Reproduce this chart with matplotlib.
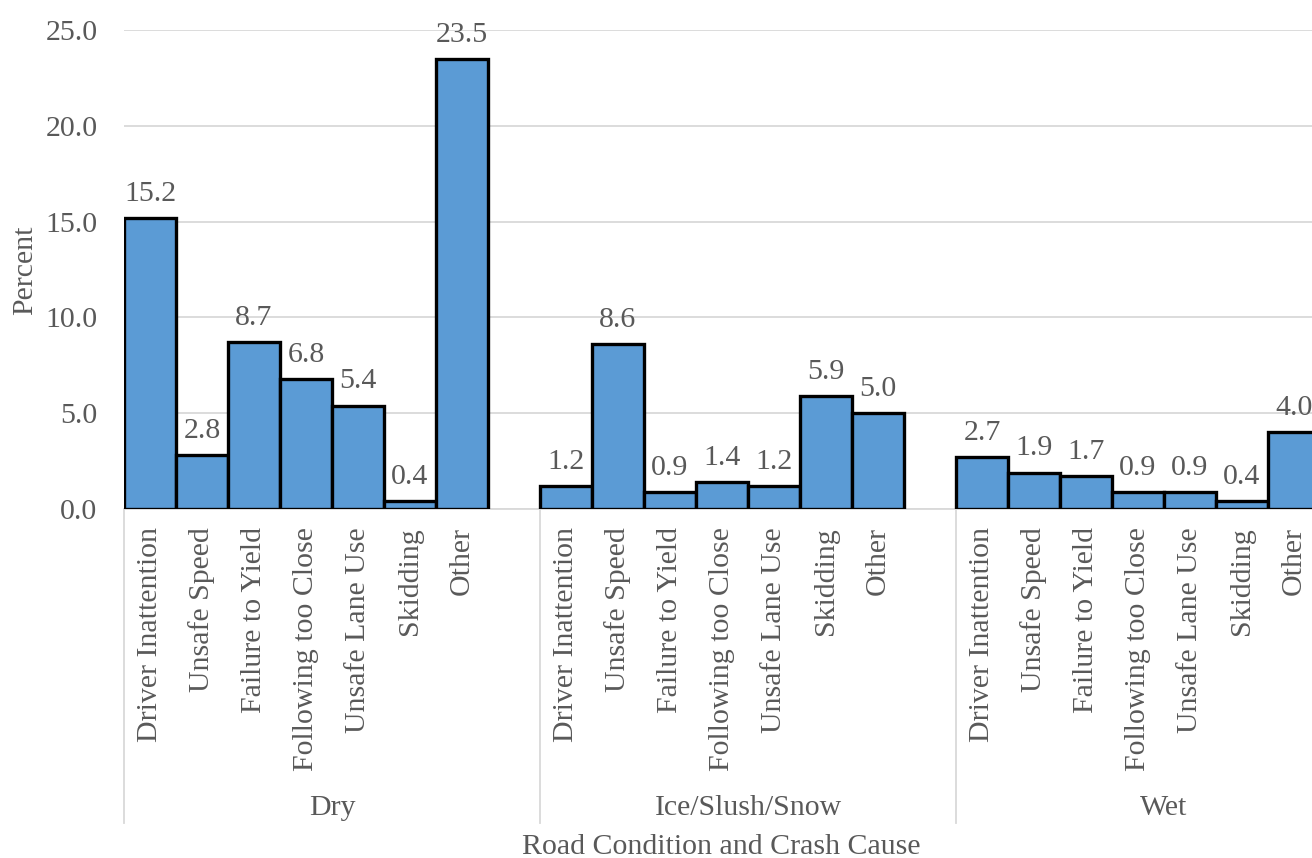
import matplotlib
matplotlib.use("Agg")
import matplotlib.pyplot as plt
import matplotlib.transforms as mtransforms

plt.rcParams['font.family'] = ['Liberation Serif', 'DejaVu Serif']

GRAY = '#595959'
GRID = '#D9D9D9'
BLUE = '#5B9BD5'
FS = 21.5

conditions = ['Dry', 'Ice/Slush/Snow', 'Wet']
causes = ['Driver Inattention', 'Unsafe Speed', 'Failure to Yield',
          'Following too Close', 'Unsafe Lane Use', 'Skidding', 'Other']
dry = [15.2, 2.8, 8.7, 6.8, 5.4, 0.4, 23.5]
ice = [1.2, 8.6, 0.9, 1.4, 1.2, 5.9, 5.0]
wet = [2.7, 1.9, 1.7, 0.9, 0.9, 0.4, 4.0]
yticks = [0, 5, 10, 15, 20, 25]

W, H = 1312, 858
fig = plt.figure(figsize=(W / 100, H / 100), dpi=100)
# axes run past the right edge of the figure, like the cropped original
ax = fig.add_axes([124 / W, 1 - 509 / H, 1248 / W, 479 / H])

slot = len(causes) + 1
xs, vals, labels = [], [], []
for g, series in enumerate([dry, ice, wet]):
    for i, v in enumerate(series):
        xs.append(g * slot + i)
        vals.append(v)
        labels.append(causes[i])

bars = ax.bar(xs, vals, width=1.0, color=BLUE, edgecolor='black', linewidth=2.4, zorder=3)
for x, v in zip(xs, vals):
    ax.annotate(f'{v:.1f}', (x, v), xytext=(0, 8), textcoords='offset points',
                ha='center', va='bottom', fontsize=FS, color=GRAY, zorder=4)

ax.set_xlim(-0.5, 3 * slot - 0.5)
ax.set_ylim(0, 25)
ax.set_yticks(yticks)
ax.set_yticklabels([f'{t:.1f}' for t in yticks])
ax.yaxis.grid(True, color=GRID, linewidth=1.3, zorder=0)
ax.set_axisbelow(True)
for s in ['top', 'right', 'left']:
    ax.spines[s].set_visible(False)
ax.spines['bottom'].set_color(GRID)
ax.spines['bottom'].set_linewidth(1.3)

ax.set_xticks(xs)
ax.set_xticklabels(labels, rotation=90, va='top', ha='center')
ax.tick_params(axis='x', length=0, pad=13, labelsize=FS, labelcolor=GRAY)
ax.tick_params(axis='y', length=0, pad=19, labelsize=FS, labelcolor=GRAY)

# group separators and group labels under the axis
trans = mtransforms.blended_transform_factory(ax.transData, ax.transAxes)
for g in range(len(conditions) + 1):
    xg = g * slot - 0.5
    ax.plot([xg, xg], [0, -314 / 479], color=GRID, linewidth=1.3,
            transform=trans, clip_on=False)
for g, name in enumerate(conditions):
    xc = g * slot + (slot - 1) / 2
    ax.text(xc, -299 / 479, name, transform=trans, ha='center', va='center',
            fontsize=FS, color=GRAY)

fig.text(721 / W, 1 - 847 / H, 'Road Condition and Crash Cause', ha='center',
         va='center', fontsize=FS, color=GRAY)
fig.text(25 / W, 1 - 270 / H, 'Percent', rotation=90, ha='center', va='center',
         fontsize=FS, color=GRAY)

fig.savefig('out.png', dpi=100)
